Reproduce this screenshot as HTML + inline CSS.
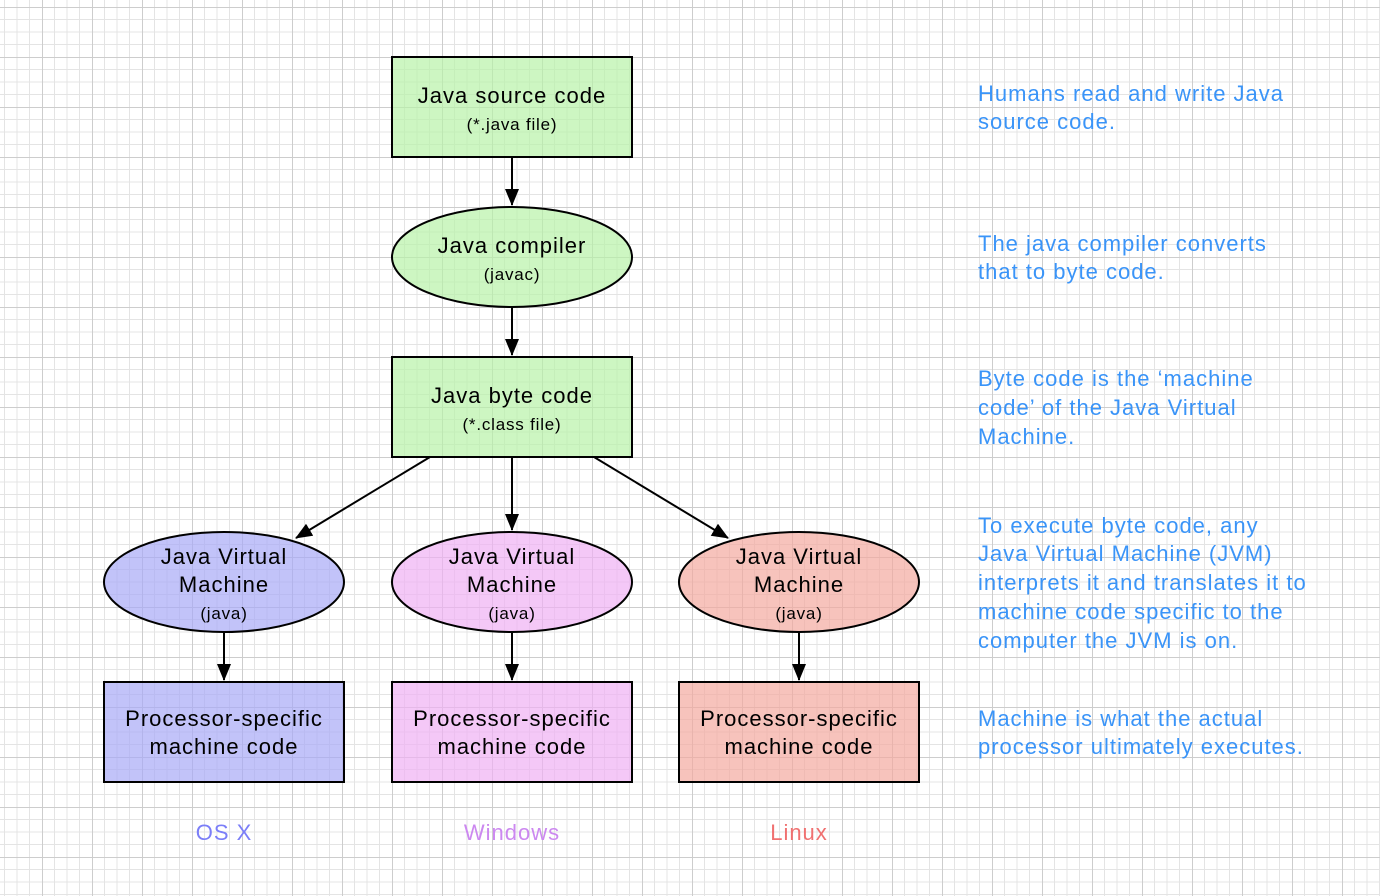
<!DOCTYPE html>
<html><head><style>html,body{margin:0;padding:0;background:#fff}svg{display:block}</style></head>
<body>
<svg width="1380" height="896" viewBox="0 0 1380 896" xmlns="http://www.w3.org/2000/svg" font-family="Liberation Sans, Arial, sans-serif">
<defs>
<pattern id="g" x="42" y="7" width="50" height="50" patternUnits="userSpaceOnUse">
<rect width="50" height="50" fill="#fff"/>
<g stroke="#e4e4e4" stroke-width="1">
<line x1="12.5" y1="0" x2="12.5" y2="50"/><line x1="25" y1="0" x2="25" y2="50"/><line x1="37.5" y1="0" x2="37.5" y2="50"/>
<line y1="12.5" x1="0" y2="12.5" x2="50"/><line y1="25" x1="0" y2="25" x2="50"/><line y1="37.5" x1="0" y2="37.5" x2="50"/>
</g>
<g stroke="#cdcdcd" stroke-width="1"><line x1="0.5" y1="0" x2="0.5" y2="50"/><line y1="0.5" x1="0" y2="0.5" x2="50"/></g>
</pattern>
<marker id="a" markerWidth="20" markerHeight="20" refX="16" refY="7" orient="auto" markerUnits="userSpaceOnUse"><path d="M0,0 L17,7 L0,14 z" fill="#000"/></marker>
</defs>
<rect width="1380" height="896" fill="url(#g)"/>
<g stroke="#000" stroke-width="2" fill-opacity="0.7">
<rect x="392" y="57" width="240" height="100" fill="#b8f2a8"/>
<ellipse cx="512" cy="257" rx="120" ry="50" fill="#b8f2a8"/>
<rect x="392" y="357" width="240" height="100" fill="#b8f2a8"/>
<ellipse cx="224" cy="582" rx="120" ry="50" fill="#a8aaf6"/>
<ellipse cx="512" cy="582" rx="120" ry="50" fill="#f0b0f4"/>
<ellipse cx="799" cy="582" rx="120" ry="50" fill="#f4aaa0"/>
<rect x="104" y="682" width="240" height="100" fill="#a8aaf6"/>
<rect x="392" y="682" width="240" height="100" fill="#f0b0f4"/>
<rect x="679" y="682" width="240" height="100" fill="#f4aaa0"/>
</g>
<g stroke="#000" stroke-width="2" marker-end="url(#a)">
<line x1="512" y1="157" x2="512" y2="205"/>
<line x1="512" y1="307" x2="512" y2="355"/>
<line x1="512" y1="457" x2="512" y2="530"/>
<line x1="430" y1="457" x2="296" y2="538"/>
<line x1="594" y1="457" x2="728" y2="538"/>
<line x1="224" y1="632" x2="224" y2="680"/>
<line x1="512" y1="632" x2="512" y2="680"/>
<line x1="799" y1="632" x2="799" y2="680"/>
</g>
<g text-anchor="middle" fill="#000" font-size="22" letter-spacing="1">
<text x="512" y="103">Java source code</text>
<text x="512" y="130" font-size="17" letter-spacing="0.8">(*.java file)</text>
<text x="512" y="253">Java compiler</text>
<text x="512" y="280" font-size="17" letter-spacing="0.8">(javac)</text>
<text x="512" y="403">Java byte code</text>
<text x="512" y="430" font-size="17" letter-spacing="0.8">(*.class file)</text>
<text x="224" y="564">Java Virtual</text><text x="224" y="592">Machine</text><text x="224" y="619" font-size="17" letter-spacing="0.8">(java)</text>
<text x="512" y="564">Java Virtual</text><text x="512" y="592">Machine</text><text x="512" y="619" font-size="17" letter-spacing="0.8">(java)</text>
<text x="799" y="564">Java Virtual</text><text x="799" y="592">Machine</text><text x="799" y="619" font-size="17" letter-spacing="0.8">(java)</text>
<text x="224" y="726">Processor-specific</text><text x="224" y="754">machine code</text>
<text x="512" y="726">Processor-specific</text><text x="512" y="754">machine code</text>
<text x="799" y="726">Processor-specific</text><text x="799" y="754">machine code</text>
<text x="224" y="840" fill="#7b7ef8">OS X</text>
<text x="512" y="840" fill="#cc88f0">Windows</text>
<text x="799" y="840" fill="#f07070">Linux</text>
</g>
<g fill="#3a94f8" font-size="22" letter-spacing="1">
<text x="978" y="101">Humans read and write Java</text>
<text x="978" y="129">source code.</text>
<text x="978" y="251">The java compiler converts</text>
<text x="978" y="279">that to byte code.</text>
<text x="978" y="386">Byte code is the ‘machine</text>
<text x="978" y="415">code’ of the Java Virtual</text>
<text x="978" y="444">Machine.</text>
<text x="978" y="533">To execute byte code, any</text>
<text x="978" y="561">Java Virtual Machine (JVM)</text>
<text x="978" y="590">interprets it and translates it to</text>
<text x="978" y="619">machine code specific to the</text>
<text x="978" y="648">computer the JVM is on.</text>
<text x="978" y="726">Machine is what the actual</text>
<text x="978" y="754">processor ultimately executes.</text>
</g>
</svg>
</body></html>
